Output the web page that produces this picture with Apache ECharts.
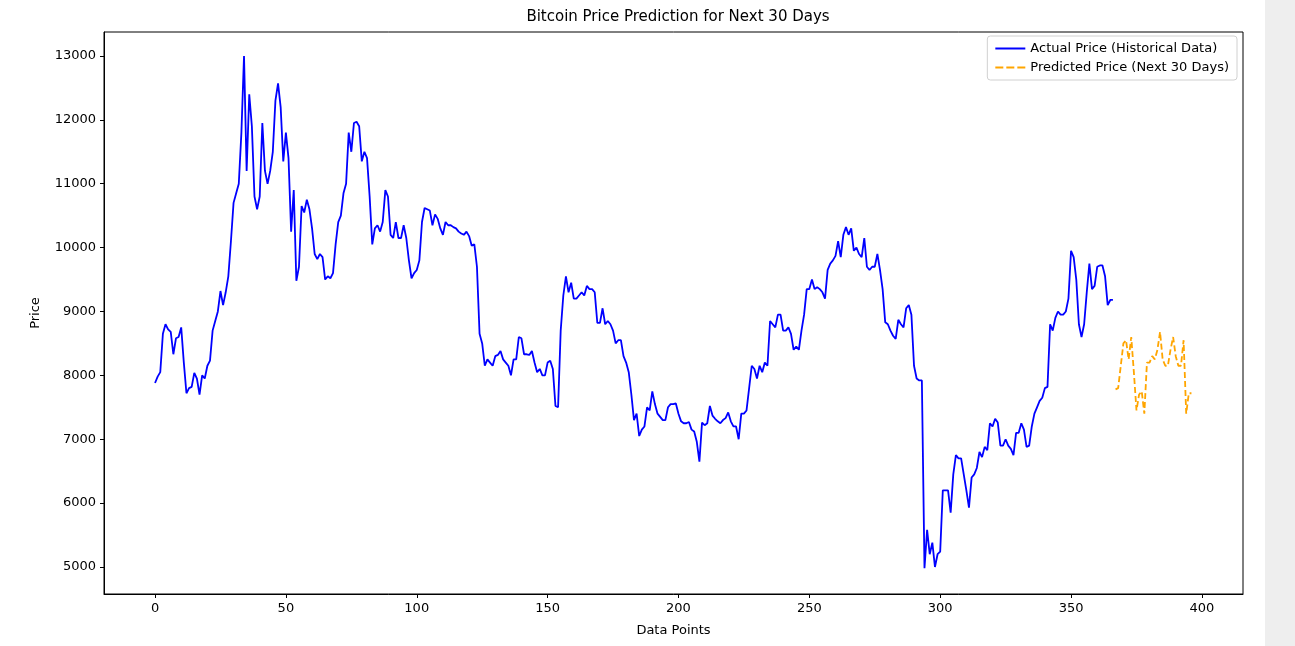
<!DOCTYPE html>
<html>
<head>
<meta charset="utf-8">
<script src="https://cdn.jsdelivr.net/npm/echarts@6/dist/echarts.min.js"></script>
<style>
html, body { margin: 0; padding: 0; background: #fff; }
#chart { width: 1295px; height: 646px; }
</style>
</head>
<body>
<div id="chart"></div>
<script>
// historical prices, index 0..366
var actual = [
	7880, 7980, 8050, 8650, 8800, 8720, 8680, 8330, 8580, 8600, 8750,
	8200, 7720, 7800, 7820, 8040, 7950, 7700, 8000, 7950, 8150,
	8230, 8700, 8850, 9000, 9320, 9100, 9300, 9550, 10100, 10700,
	10850, 11000, 11800, 13000, 11200, 12400, 11900, 10800, 10600, 10800,
	11950, 11200, 11000, 11200, 11500, 12300, 12570, 12200, 11350, 11800,
	11400, 10250, 10900, 9480, 9700, 10650, 10550, 10750, 10600, 10300,
	9900, 9820, 9900, 9850, 9500, 9550, 9520, 9600, 10050, 10400,
	10500, 10850, 11000, 11800, 11500, 11950, 11970, 11900, 11350, 11500,
	11400, 10800, 10050, 10300, 10350, 10250, 10400, 10900, 10800, 10200,
	10150, 10400, 10150, 10150, 10350, 10150, 9800, 9520, 9600, 9650,
	9800, 10400, 10620, 10600, 10580, 10350, 10520, 10450, 10300, 10200,
	10400, 10350, 10350, 10320, 10300, 10250, 10220, 10200, 10250, 10180,
	10030, 10050, 9700, 8650, 8500, 8150, 8250, 8200, 8150, 8300,
	8320, 8380, 8250, 8200, 8150, 8000, 8250, 8250, 8600, 8580,
	8330, 8330, 8320, 8380, 8200, 8050, 8100, 8000, 8000, 8200,
	8230, 8100, 7520, 7500, 8700, 9250, 9550, 9300, 9450, 9200,
	9200, 9250, 9300, 9250, 9400, 9350, 9350, 9300, 8820, 8820,
	9050, 8800, 8850, 8800, 8700, 8500, 8550, 8550, 8300, 8200,
	8050, 7700, 7300, 7400, 7050, 7150, 7200, 7500, 7450, 7750,
	7550, 7400, 7350, 7300, 7300, 7500, 7550, 7550, 7560, 7400,
	7280, 7250, 7250, 7270, 7150, 7120, 6960, 6650, 7260, 7220,
	7250, 7520, 7370, 7320, 7280, 7250, 7300, 7330, 7420, 7280,
	7200, 7200, 7000, 7400, 7400, 7450, 7800, 8150, 8100, 7950,
	8150, 8050, 8200, 8150, 8850, 8800, 8750, 8950, 8950, 8700,
	8700, 8750, 8650, 8400, 8450, 8400, 8700, 8950, 9350, 9350,
	9500, 9350, 9380, 9350, 9300, 9200, 9650, 9750, 9800, 9870,
	10100, 9850, 10200, 10320, 10200, 10300, 9950, 10000, 9900, 9850,
	10150, 9700, 9650, 9700, 9700, 9900, 9650, 9350, 8830, 8800,
	8700, 8620, 8570, 8870, 8800, 8750, 9050, 9100, 8950, 8150,
	7950, 7920, 7920, 4980, 5580, 5200, 5380, 5000, 5200, 5240,
	6200, 6200, 6200, 5850, 6450, 6750, 6700, 6700, 6450, 6200,
	5930, 6400, 6450, 6550, 6800, 6720, 6880, 6830, 7250, 7200,
	7320, 7260, 6900, 6900, 7000, 6900, 6850, 6750, 7100, 7100,
	7250, 7150, 6880, 6900, 7200, 7400, 7500, 7600, 7650, 7800,
	7820, 8800, 8700, 8900, 9000, 8950, 8950, 9000, 9200, 9950,
	9850, 9500, 8800, 8600, 8800, 9300, 9750, 9350, 9400, 9700,
	9720, 9720, 9550, 9100, 9180, 9180
];
// predicted prices, index 367..396
var predicted = [
	7780, 7800, 8150, 8500, 8550, 8250, 8600, 8050, 7450, 7700,
	7750, 7400, 8200, 8200, 8300, 8250, 8400, 8680, 8250, 8150,
	8150, 8400, 8600, 8300, 8150, 8150, 8550, 7400, 7720, 7720
];
var xTicks = [0, 50, 100, 150, 200, 250, 300, 350, 400];
var yTicks = [5000, 6000, 7000, 8000, 9000, 10000, 11000, 12000, 13000];

var actualData = actual.map(function(v, i) { return [i, v]; });
var predData = predicted.map(function(v, i) { return [actual.length + i, v]; });

var font = 'DejaVu Sans';
var myChart = echarts.init(document.getElementById('chart'));
myChart.setOption({
	animation: false,
	textStyle: { fontFamily: font },
	title: {
		text: 'Bitcoin Price Prediction for Next 30 Days',
		left: 673, top: 5, textAlign: 'center',
		textStyle: { fontFamily: font, fontSize: 15, fontWeight: 'normal', color: '#000' }
	},
	graphic: [{
		type: 'rect', shape: { x: 1265, y: 0, width: 30, height: 646 },
		style: { fill: '#eeeeee' }, silent: true
	}],
	legend: {
		right: 58, top: 36, orient: 'vertical', itemGap: 6,
		itemWidth: 30, itemHeight: 10,
		padding: [6, 8], borderColor: '#d0d0d0', borderWidth: 1, borderRadius: 3,
		textStyle: { fontFamily: font, fontSize: 13, color: '#000' },
		data: [
			{ name: 'Actual Price (Historical Data)', icon: 'path://M0,4 L30,4 L30,6 L0,6 Z' },
			{ name: 'Predicted Price (Next 30 Days)', icon: 'path://M0,4 L8,4 L8,6 L0,6 Z M11,4 L19,4 L19,6 L11,6 Z M22,4 L30,4 L30,6 L22,6 Z' }
		]
	},
	grid: { left: 104, right: 52, top: 32, bottom: 52, show: true, borderColor: '#000', borderWidth: 1 },
	xAxis: {
		type: 'value', min: -19.5, max: 415.7,
		name: 'Data Points', nameLocation: 'middle', nameGap: 30,
		nameTextStyle: { fontFamily: font, fontSize: 13, color: '#000' },
		axisLine: { show: true, onZero: false, lineStyle: { color: '#000' } },
		axisTick: { show: true, customValues: xTicks, length: 4, lineStyle: { color: '#000' } },
		axisLabel: { customValues: xTicks, color: '#000', fontSize: 13, fontFamily: font,
			formatter: function(v) { return String(v); } },
		splitLine: { show: false }
	},
	yAxis: {
		type: 'value', min: 4577, max: 13375,
		name: 'Price', nameLocation: 'middle', nameGap: 62, nameRotate: 90,
		nameTextStyle: { fontFamily: font, fontSize: 13, color: '#000' },
		axisLine: { show: true, onZero: false, lineStyle: { color: '#000' } },
		axisTick: { show: true, customValues: yTicks, length: 4, lineStyle: { color: '#000' } },
		axisLabel: { customValues: yTicks, color: '#000', fontSize: 13, fontFamily: font,
			formatter: function(v) { return String(v); } },
		splitLine: { show: false }
	},
	series: [{
		name: 'Actual Price (Historical Data)',
		type: 'line', data: actualData, showSymbol: false,
		lineStyle: { color: '#0000ff', width: 1.8 }, itemStyle: { color: '#0000ff' }
	}, {
		name: 'Predicted Price (Next 30 Days)',
		type: 'line', data: predData, showSymbol: false,
		lineStyle: { color: '#ffa500', width: 1.8, type: [6, 3] }, itemStyle: { color: '#ffa500' }
	}]
});
</script>
</body>
</html>
